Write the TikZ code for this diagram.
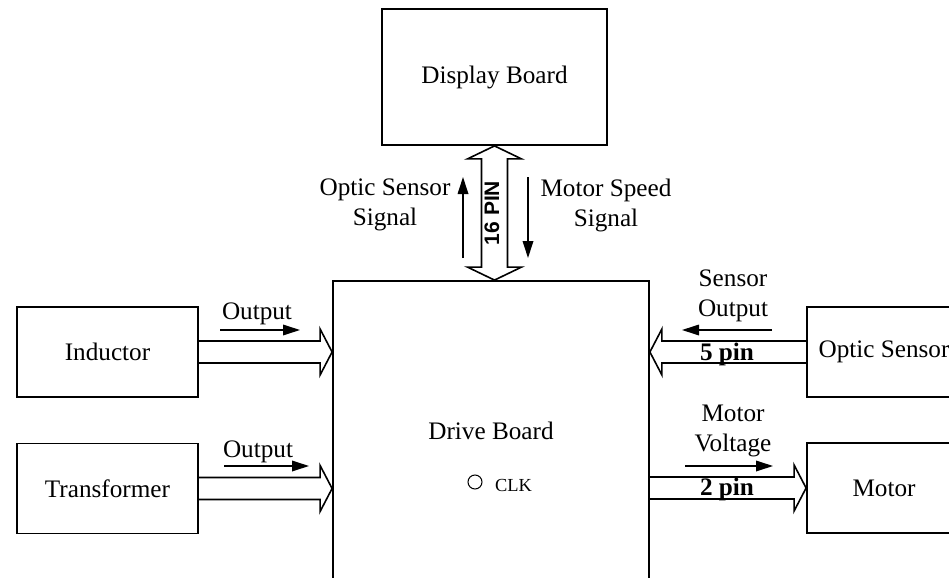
\documentclass[tikz,border=0pt]{standalone}
\usepackage{fontspec}
\setmainfont{Liberation Serif}
\newfontfamily\pinfont{Liberation Sans}
\usetikzlibrary{arrows.meta}
\usetikzlibrary{calc}

\begin{document}
\begin{tikzpicture}[x=0.5pt,y=-0.5pt]
  \tikzset{box/.style = {shape=rectangle,draw,line width=0.9pt,inner sep=0pt,minimum width=90.5pt,minimum height=45pt,font=\fontsize{12.6}{15}\selectfont}}
  \tikzset{lbl/.style = {align=center,inner sep=0pt,font=\fontsize{12.6}{15}\selectfont}}
  \tikzset{pin/.style = {inner sep=0pt,font=\fontsize{12.6}{15}\selectfont\bfseries}}
  \tikzset{sig/.style = {-{Triangle[length=8.5pt,width=5.3pt]},line width=0.7pt}}
  \tikzset{fat/.style = {draw,line width=0.8pt,to path={let \p1=(\tikztostart), \p2=(\tikztotarget), \p3=($(\tikztotarget)!6pt!(\tikztostart)$) in
      (\x1,\y1+5.5pt) -- (\x3,\y1+5.5pt) -- (\x3,\y1+11.5pt) -- (\x2,\y2) -- (\x3,\y1-11.5pt) -- (\x3,\y1-5.5pt) -- (\x1,\y1-5.5pt)}}}

  \path[use as bounding box] (0,0) rectangle (949,578);
  \clip (0,0) rectangle (949,578);

	\node[box,minimum width=112.5pt,minimum height=68pt] (dsp) at (494.5,77) {Display Board};
	\node[box,minimum width=158pt,minimum height=150pt] (drv) at (491,431) {Drive Board};
	\node[box] (ind) at (107.5,352) {Inductor};
	\node[box] (trf) at (107.5,488.5) {Transformer};
	\node[box,minimum width=77pt] (ops) at (884,352) {Optic Sensor};
	\node[box,minimum width=77pt] (mot) at (884,488) {Motor};

	\node[circle,draw,line width=0.5pt,minimum size=7pt,inner sep=0pt] (clk) at (475,482) {};
	\node[inner sep=0pt,font=\fontsize{9.2}{11}\selectfont] (clkl) at (513.5,485.5) {CLK};

	% 16 pin bus
	\draw[line width=0.8pt] let \p1=(dsp.south), \p2=(dsp.south |- drv.north) in
	  (\x1,\y1) -- (\x1+13.5pt,\y1-6.5pt) -- (\x1+6.5pt,\y1-6.5pt) -- (\x1+6.5pt,\y2+6.5pt)
	  -- (\x1+13.5pt,\y2+6.5pt) -- (\x1,\y2) -- (\x1-13.5pt,\y2+6.5pt) -- (\x1-6.5pt,\y2+6.5pt)
	  -- (\x1-6.5pt,\y1-6.5pt) -- (\x1-13.5pt,\y1-6.5pt) -- cycle;
	\node[inner sep=0pt,rotate=90,font=\pinfont\fontsize{10.5}{12}\selectfont\bfseries] (pin16) at (492,213) {16 PIN};

	\path[fat] (ind.east) to (ind.east -| drv.west);
	\path[fat] (trf.east) to (trf.east -| drv.west);
	\path[fat] (ops.west) to (ops.west -| drv.east);
	\path[fat] (mot.west -| drv.east) to (mot.west);

	\node[pin] (pin5) at (727,354) {5 pin};
	\node[pin] (pin2) at (727,489) {2 pin};

	\node[lbl] (ossig) at (385,205) {Optic Sensor\\Signal};
	\node[lbl] (mssig) at (606,205) {Motor Speed\\Signal};
	\node[lbl] (indout) at (257,314) {Output};
	\node[lbl] (trfout) at (258,452) {Output};
	\node[lbl] (opsout) at (733,296) {Sensor\\Output};
	\node[lbl] (motvolt) at (733,431) {Motor\\Voltage};

	\coordinate (os1) at (463,258);
	\coordinate (os2) at (463,177);
	\coordinate (ms1) at (528,177);
	\coordinate (ms2) at (528,258);
	\coordinate (io1) at (220,330);
	\coordinate (io2) at (300,330);
	\coordinate (to1) at (224,466);
	\coordinate (to2) at (309,466);
	\coordinate (so1) at (772,330);
	\coordinate (so2) at (682,330);
	\coordinate (mv1) at (685,466);
	\coordinate (mv2) at (773,466);

	\foreach \from/\to in {os1/os2, ms1/ms2, io1/io2, to1/to2, so1/so2, mv1/mv2}
	  \draw[sig] (\from) -- (\to);

\end{tikzpicture}
\end{document}
